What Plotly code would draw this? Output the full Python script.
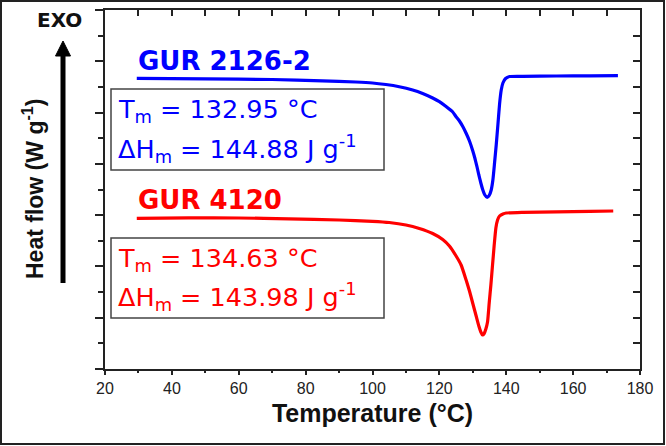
import plotly.graph_objects as go

# ---------------- data ----------------
temp_blue = [29.5, 50, 70, 85, 95, 100, 104, 108, 112, 115, 118, 120, 122, 124, 125, 126, 127, 128,
             129, 130, 130.6, 131.2, 131.8, 132.4, 133, 133.6, 134.3, 134.9, 135.5, 136, 136.5, 137,
             137.5, 138, 138.5, 139, 139.8, 141, 145, 155, 165, 173.4]
hf_blue = [5.668, 5.658, 5.645, 5.619, 5.596, 5.577, 5.547, 5.504, 5.44, 5.372, 5.284, 5.212, 5.118,
           5.011, 4.919, 4.836, 4.728, 4.596, 4.446, 4.251, 4.114, 3.958, 3.783, 3.627, 3.49, 3.393,
           3.344, 3.383, 3.49, 3.685, 4.017, 4.368, 4.758, 5.167, 5.44, 5.577, 5.664, 5.703, 5.707,
           5.713, 5.717, 5.719]

temp_red = [29.5, 45, 60, 75, 90, 100, 105, 110, 114, 118, 121, 123, 125, 126.5, 128, 129, 130, 131,
            131.8, 132.4, 132.9, 133.4, 133.9, 134.4, 134.9, 135.4, 135.9, 136.4, 136.9, 137.4, 138,
            139, 140, 145, 155, 165, 172]
hf_red = [2.938, 2.948, 2.944, 2.929, 2.905, 2.88, 2.857, 2.808, 2.74, 2.642, 2.525, 2.398, 2.203,
          2.028, 1.735, 1.521, 1.277, 1.033, 0.838, 0.721, 0.663, 0.692, 0.78, 0.916, 1.287, 1.638,
          2.028, 2.418, 2.749, 2.905, 2.983, 3.022, 3.042, 3.055, 3.065, 3.075, 3.081]

series_names = ["GUR 2126-2", "GUR 4120"]
series_colors = ["#0000ff", "#ff0000"]
tm_values = ["132.95", "134.63"]
dh_values = ["144.88", "143.98"]

x_range = [20, 180]
y_range = [0, 7]

# ---------------- layout helpers (pixel -> paper) ----------------
W, H = 666, 446
L, R, T, B = 105, 640, 10, 369


def px(x):
    return (x - L) / (R - L)


def py(y):
    return (B - y) / (B - T)


fig = go.Figure()
for t, v, c in [(temp_blue, hf_blue, series_colors[0]), (temp_red, hf_red, series_colors[1])]:
    fig.add_trace(go.Scatter(x=t, y=v, mode="lines", line=dict(color=c, width=3.2, shape="spline", smoothing=0.5),
                             showlegend=False, hoverinfo="skip"))

# dummy traces to activate mirror axes (top / right, ticks inside)
fig.add_trace(go.Scatter(x=[None], y=[None], xaxis="x2", yaxis="y", showlegend=False, hoverinfo="skip"))
fig.add_trace(go.Scatter(x=[None], y=[None], xaxis="x", yaxis="y2", showlegend=False, hoverinfo="skip"))

axis_col = "#222222"
fig.update_layout(
    width=W, height=H,
    margin=dict(l=L, r=W - R, t=T, b=H - B),
    paper_bgcolor="white", plot_bgcolor="white",
    font=dict(family="Liberation Sans, Arial, sans-serif", color=axis_col),
    xaxis=dict(range=x_range, dtick=20, tick0=20, ticks="outside", ticklen=4, tickwidth=1.5,
               tickcolor=axis_col, showline=True, linewidth=2, linecolor=axis_col,
               showgrid=False, zeroline=False,
               tickfont=dict(size=16, family="Liberation Sans, Arial, sans-serif", color=axis_col),
               minor=dict(dtick=10, ticks="outside", ticklen=2, tickwidth=1.5, tickcolor=axis_col, showgrid=False),
               title=dict(text="<b>Temperature (°C)</b>", standoff=8,
                          font=dict(size=25, family="Liberation Sans, Arial, sans-serif", color="#111"))),
    yaxis=dict(range=y_range, dtick=1, tick0=0, ticks="outside", ticklen=8, tickwidth=1.5,
               tickcolor=axis_col, showline=True, linewidth=2, linecolor=axis_col,
               showgrid=False, zeroline=False, showticklabels=False,
               minor=dict(dtick=0.5, ticks="outside", ticklen=5, tickwidth=1.5, tickcolor=axis_col, showgrid=False)),
    xaxis2=dict(overlaying="x", side="top", range=x_range, dtick=10, tick0=20, ticks="inside", ticklen=6,
                tickwidth=1.5, tickcolor=axis_col, showline=True, linewidth=1.5, linecolor=axis_col,
                showgrid=False, zeroline=False, showticklabels=False),
    yaxis2=dict(overlaying="y", side="right", range=y_range, dtick=0.5, tick0=0, ticks="inside", ticklen=7,
                tickwidth=1.5, tickcolor=axis_col, showline=True, linewidth=2, linecolor=axis_col,
                showgrid=False, zeroline=False, showticklabels=False),
)

shapes = []
# outer frame
shapes.append(dict(type="rect", xref="paper", yref="paper", x0=px(1), x1=px(664), y0=py(444), y1=py(1),
                   line=dict(color="#222", width=2), layer="above"))
# stat boxes
for (top, bot) in [(89, 170), (238, 318)]:
    shapes.append(dict(type="rect", xref="paper", yref="paper", x0=px(111), x1=px(384), y0=py(bot), y1=py(top),
                       line=dict(color="#444", width=1.5), fillcolor="rgba(0,0,0,0)"))
# EXO arrow
shapes.append(dict(type="line", xref="paper", yref="paper", x0=px(63), x1=px(63), y0=py(283), y1=py(54),
                   line=dict(color="black", width=5)))
shapes.append(dict(type="path", xref="paper", yref="paper",
                   path=f"M {px(55.5)} {py(56)} L {px(63)} {py(41)} L {px(70.5)} {py(56)} Z",
                   fillcolor="black", line=dict(color="black", width=1)))
fig.update_layout(shapes=shapes)

ann = []
ann.append(dict(xref="paper", yref="paper", x=px(59), y=py(20), text="<b>EXO</b>", showarrow=False,
                xanchor="center", yanchor="middle",
                font=dict(size=20, family="DejaVu Sans, sans-serif", color="#111")))
ann.append(dict(xref="paper", yref="paper", x=px(33), y=py(189), text="<b>Heat flow (W g<sup>-1</sup>)</b>",
                showarrow=False, textangle=-90, xanchor="center", yanchor="middle",
                font=dict(size=23, family="Liberation Sans, Arial, sans-serif", color="#111")))
name_y = [61, 200]
line1_y = [111, 259]
line2_y = [148, 296]
for i in range(2):
    c = series_colors[i]
    ann.append(dict(xref="paper", yref="paper", x=px(136), y=py(name_y[i]), text=f"<b>{series_names[i]}</b>",
                    showarrow=False, xanchor="left", yanchor="middle",
                    font=dict(size=26, family="DejaVu Sans, sans-serif", color=c)))
    ann.append(dict(xref="paper", yref="paper", x=px(116), y=py(line1_y[i]),
                    text=f"T<sub>m</sub> = {tm_values[i]} °C",
                    showarrow=False, xanchor="left", yanchor="middle",
                    font=dict(size=25.5, family="DejaVu Sans, sans-serif", color=c)))
    ann.append(dict(xref="paper", yref="paper", x=px(116), y=py(line2_y[i]),
                    text=f"ΔH<sub>m</sub> = {dh_values[i]} J g<sup>-1</sup>",
                    showarrow=False, xanchor="left", yanchor="middle",
                    font=dict(size=25.5, family="DejaVu Sans, sans-serif", color=c)))
fig.update_layout(annotations=ann)

fig.write_html("out.html")
